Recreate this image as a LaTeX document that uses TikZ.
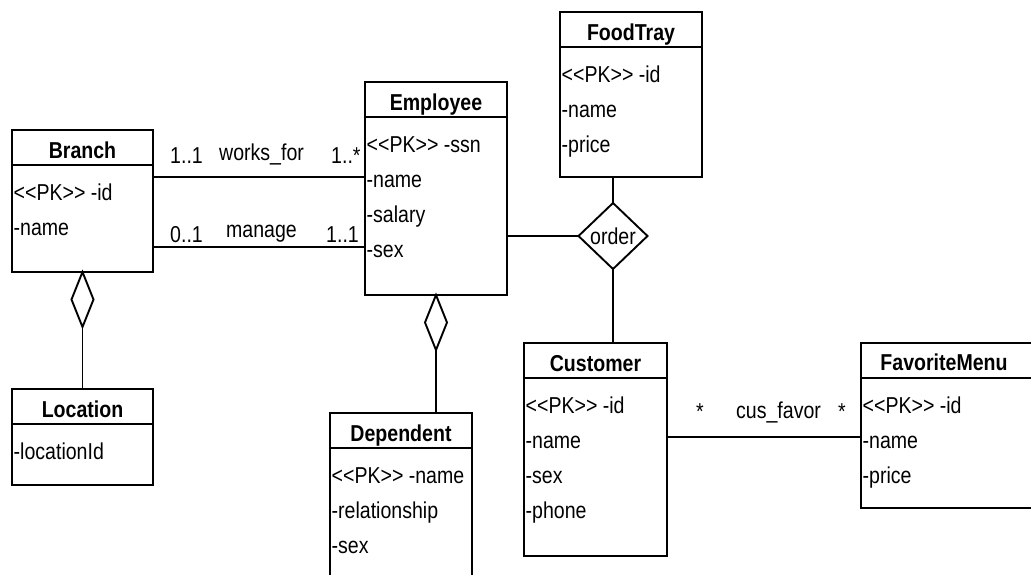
\documentclass[tikz,border=0pt]{standalone}
\usepackage{fontspec}
\newfontfamily\umlfont{Liberation Sans}[FakeStretch=0.85]
\usetikzlibrary{shapes.geometric}

\tikzset{
  umlbox/.style={draw, line width=1.9pt, rectangle, inner sep=0pt, outer sep=0pt, anchor=north west},
  ctitle/.style={font=\umlfont\fontsize{23}{27}\selectfont\bfseries, inner sep=0pt, anchor=base},
  attr/.style={font=\umlfont\fontsize{23}{27}\selectfont, inner sep=0pt, anchor=base west},
  lbl/.style={font=\umlfont\fontsize{23}{27}\selectfont, inner sep=0pt, anchor=base west},
  link/.style={line width=1.9pt},
  aggr/.style={draw, diamond, line width=1.9pt, fill=white, inner sep=0pt, outer sep=0pt,
    minimum width=22pt, minimum height=55pt, anchor=north},
  rel/.style={draw, diamond, line width=1.9pt, fill=white, inner sep=0pt, outer sep=0pt,
    minimum width=69pt, minimum height=66pt, font=\umlfont\fontsize{23}{27}\selectfont}
}

% class box with its header line
\newcommand{\umlclass}[4]{%
  \node[umlbox, minimum width=#2, minimum height=#3] (#1) at (#4) {};
  \draw[link] ([yshift=-35pt]#1.north west) -- ([yshift=-35pt]#1.north east);
}
\newcommand{\umltitle}[2]{%
  \node[ctitle] (#1-title) at ([yshift=-28pt]#1.north) {#2};
}
\newcommand{\umlattrs}[2]{%
  \foreach \t [count=\i] in {#2} {
    \node[attr] (#1-a\i) at ([xshift=1.5pt,yshift={-35pt-35pt*\i}]#1.north west) {\t};
  }
}

\begin{document}
\begin{tikzpicture}[x=1pt, y=-1pt]
\useasboundingbox (0,0) rectangle (1031,574);
\clip (0,0) rectangle (1031,574);

% classes
\umlclass{branch}{141pt}{142pt}{12,130}
\umltitle{branch}{Branch}
\umlattrs{branch}{<<PK>> -id,-name}

\umlclass{employee}{142pt}{213pt}{365,82}
\umltitle{employee}{Employee}
\umlattrs{employee}{<<PK>> -ssn,-name,-salary,-sex}

\umlclass{foodtray}{142pt}{165pt}{560,12}
\umltitle{foodtray}{FoodTray}
\umlattrs{foodtray}{<<PK>> -id,-name,-price}

\umlclass{customer}{143pt}{213pt}{524,343}
\umltitle{customer}{Customer}
\umlattrs{customer}{<<PK>> -id,-name,-sex,-phone}

\umlclass{dependent}{142pt}{200pt}{330,413}
\umltitle{dependent}{Dependent}
\umlattrs{dependent}{<<PK>> -name,-relationship,-sex}

\umlclass{favmenu}{190pt}{165pt}{861,343}
\node[ctitle] (favmenu-title) at (944,370) {FavoriteMenu};
\umlattrs{favmenu}{<<PK>> -id,-name,-price}

\umlclass{location}{141pt}{96pt}{12,389}
\umltitle{location}{Location}
\umlattrs{location}{-locationId}

% associations between Branch and Employee
\coordinate (wfy) at (0,177);
\coordinate (mgy) at (0,247);
\draw[link] (branch.east |- wfy) -- (employee.west |- wfy);
\draw[link] (branch.east |- mgy) -- (employee.west |- mgy);
\node[lbl] (wf-m1) at (170,163) {1..1};
\node[lbl] (wf-name) at (219,160) {works\_for};
\node[lbl] (wf-m2) at (331,163) {1..*};
\node[lbl] (mg-m1) at (170,242) {0..1};
\node[lbl] (mg-name) at (226,237) {manage};
\node[lbl] (mg-m2) at (326,242) {1..1};

% ternary relationship "order"
\node[rel] (order) at (613,236) {order};
\draw[link] (employee.east |- order.west) -- (order.west);
\draw[link] (order.north |- foodtray.south) -- (order.north);
\draw[link] (order.south) -- (order.south |- customer.north);

% aggregations
\node[aggr] (bagg) at (branch.south) {};
\draw[link] (bagg.south) -- (location.north);
\node[aggr] (eagg) at (employee.south) {};
\draw[link] (eagg.south) -- (eagg.south |- dependent.north);

% Customer -- FavoriteMenu
\coordinate (cfy) at (0,437);
\draw[link] (customer.east |- cfy) -- (favmenu.west |- cfy);
\node[lbl] (cf-m1) at (696,419) {*};
\node[lbl] (cf-name) at (736,418) {cus\_favor};
\node[lbl] (cf-m2) at (838,419) {*};
\end{tikzpicture}
\end{document}
